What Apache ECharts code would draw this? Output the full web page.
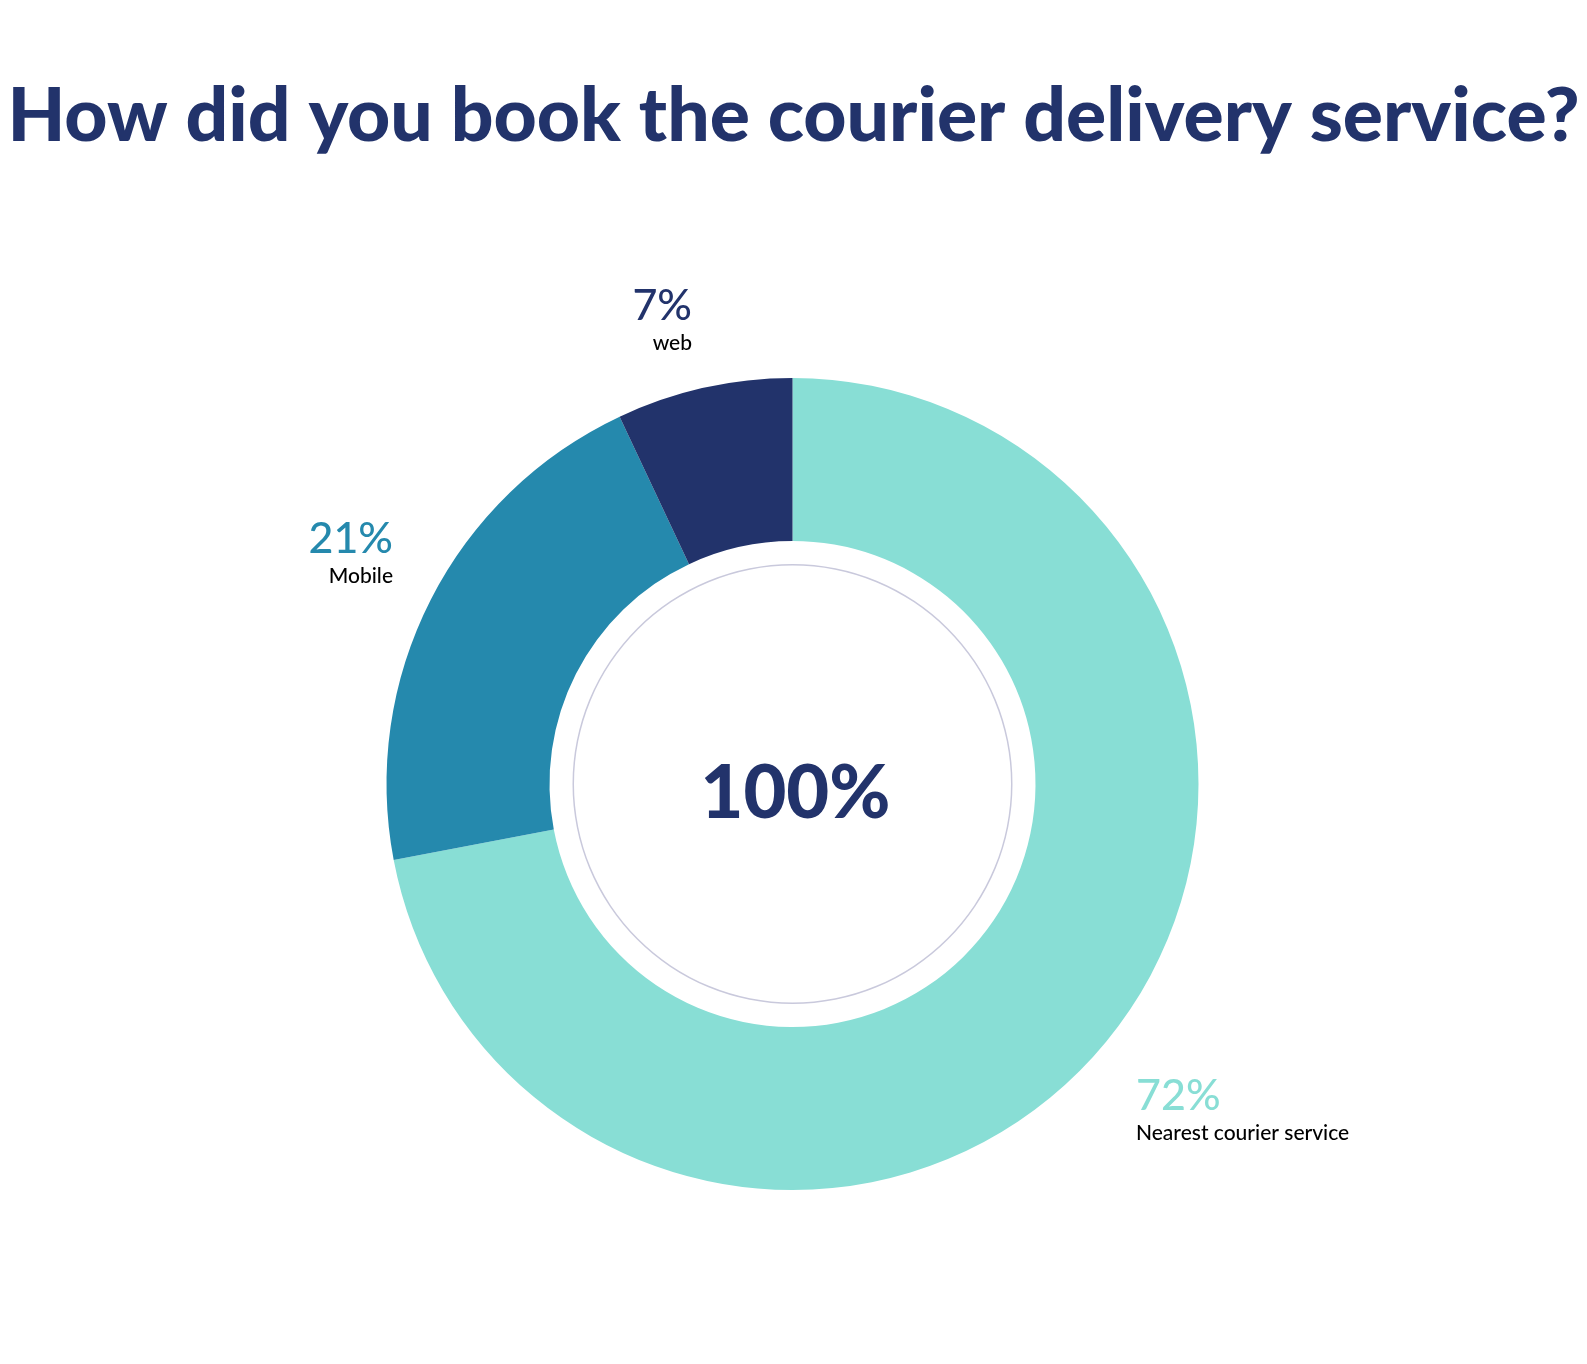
<!DOCTYPE html>
<html>
<head>
<meta charset="utf-8">
<script src="https://cdn.jsdelivr.net/npm/echarts@6/dist/echarts.min.js"></script>
<style>
html,body{margin:0;padding:0;background:#fff;}
#chart{width:1587px;height:1364px;}
</style>
</head>
<body>
<div id="chart"></div>
<script>
// ---- data ----
var categories = ['Nearest courier service', 'Mobile', 'web'];
var values = [72, 21, 7];
var titleText = 'How did you book the courier delivery service?';

// ---- styles / layout (not data) ----
var sliceColors = ['#88DED5', '#2589AD', '#22336B'];
var navy = '#22336B';
var FONT = 'Lato, "Noto Sans", sans-serif';
// label anchor per slice: [x, y, align]
var labelAnchors = [
  [1136, 1072, 'left'],
  [393, 515, 'right'],
  [692, 282, 'right']
];

var total = values.reduce(function (a, b) { return a + b; }, 0);

var chart = echarts.init(document.getElementById('chart'), null, {renderer: 'canvas'});
chart.setOption({
  backgroundColor: '#ffffff',
  animation: false,
  title: {
    text: titleText,
    left: 'center',
    top: 74,
    textStyle: {
      fontFamily: FONT,
      fontWeight: 900,
      fontSize: 75,
      color: navy
    }
  },
  series: [
    {
      type: 'pie',
      center: [792.5, 784],
      radius: [243, 406],
      startAngle: 90,
      clockwise: true,
      silent: true,
      data: categories.map(function (c, i) {
        return {name: c, value: values[i], itemStyle: {color: sliceColors[i]}};
      }),
      label: {
        show: true,
        position: 'outside',
        color: 'inherit',
        formatter: '{pct|{d}%}\n{name|{b}}',
        rich: {
          pct: {fontFamily: FONT, fontSize: 43, lineHeight: 48, fontWeight: 500},
          name: {fontFamily: FONT, fontSize: 21, lineHeight: 26, color: '#000000', fontWeight: 500}
        }
      },
      labelLine: {show: false},
      labelLayout: function (params) {
        var a = labelAnchors[params.dataIndex];
        return {x: a[0], y: a[1], align: a[2], verticalAlign: 'top'};
      }
    },
    {
      type: 'pie',
      center: [792.5, 784],
      radius: [218.5, 220],
      silent: true,
      data: [{name: 'total', value: total, itemStyle: {color: '#C9C9DC'}}],
      label: {
        show: true,
        position: 'center',
        formatter: function () { return total + '%'; },
        fontFamily: FONT,
        fontWeight: 900,
        fontSize: 74,
        color: navy,
        offset: [3, 10]
      },
      labelLine: {show: false}
    }
  ]
});
</script>
</body>
</html>
